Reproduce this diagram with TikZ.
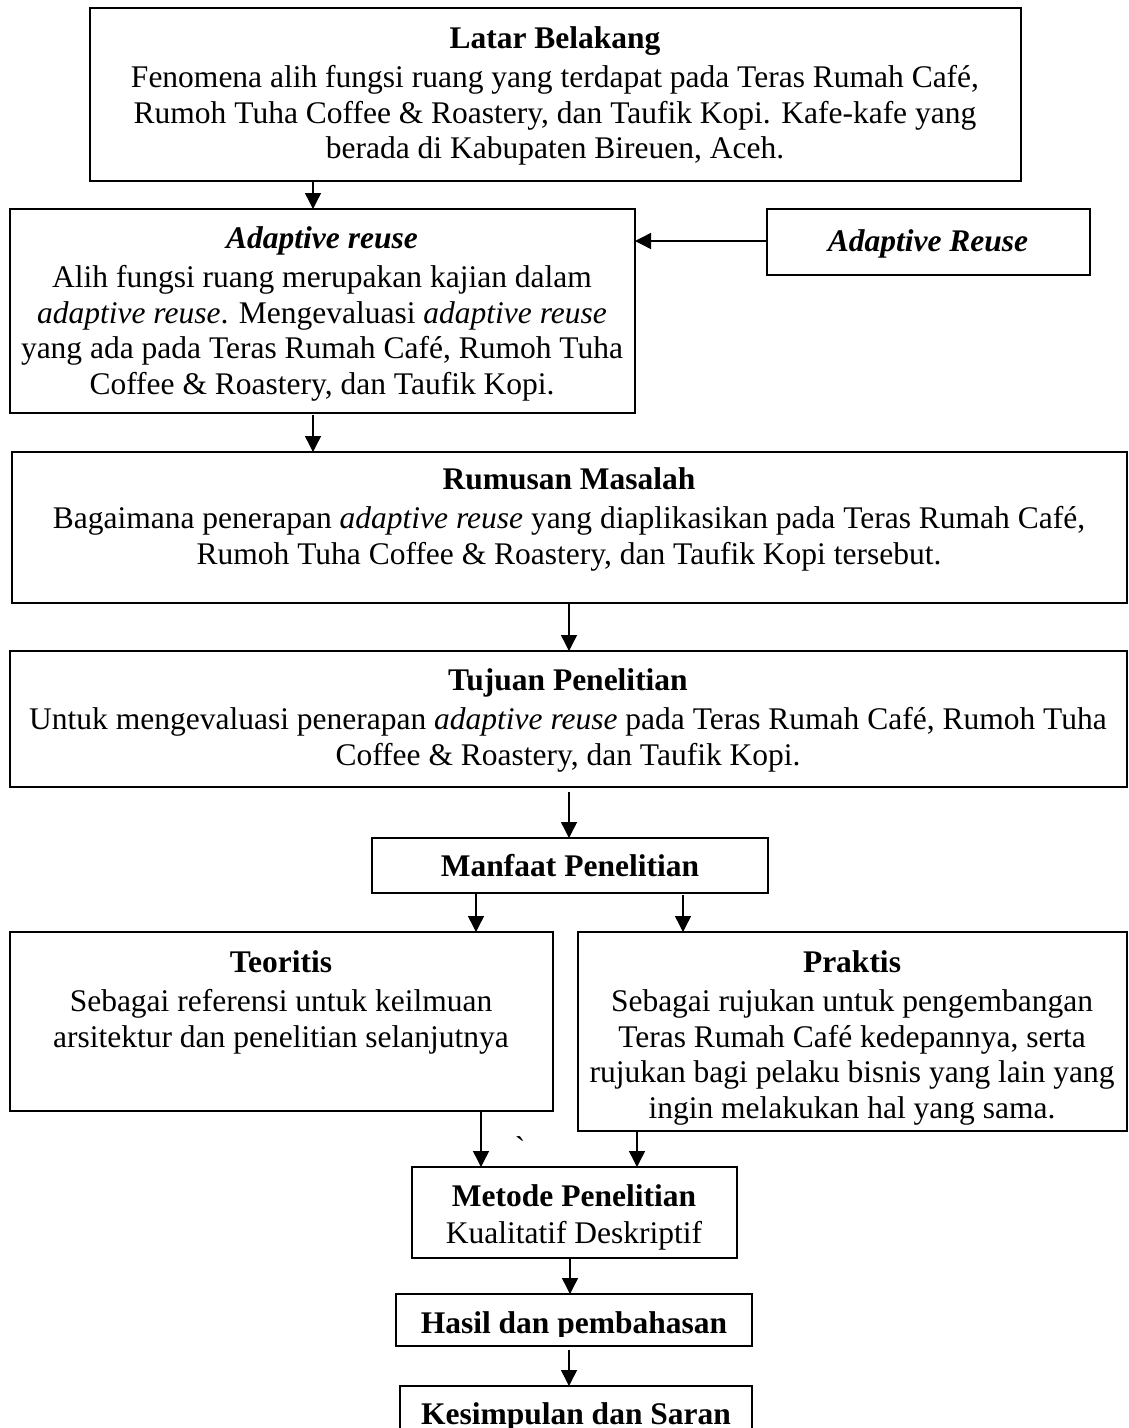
\documentclass[tikz,border=0pt]{standalone}
\usepackage{fontspec}
\setmainfont{Liberation Serif}
\usetikzlibrary{arrows.meta}
\begin{document}
\begin{tikzpicture}[x=1pt,y=-1pt,
  box/.style args={#1/#2}{draw,line width=1.6pt,anchor=north west,inner sep=0pt,outer sep=0pt,minimum width=#1pt,minimum height=#2pt},
  txt/.style={align=center,inner sep=0pt,anchor=north,font=\fontsize{31.5}{35.5}\selectfont},
  arr/.style={line width=1.4pt,-{Triangle[length=16pt,width=16pt]}}]
\useasboundingbox (0,0) rectangle (1129,1428);
% boxes
\node[box=931/173] (latar) at (90,8) {};
\node[box=625/204] (ar) at (10,209) {};
\node[box=323/66] (arx) at (767,209) {};
\node[box=1115/151] (rum) at (12,452) {};
\node[box=1117/136] (tuj) at (10,651) {};
\node[box=396/55] (man) at (372,838) {};
\node[box=543/179] (teo) at (10,932) {};
\node[box=549/199] (pra) at (578,932) {};
\node[box=325/91] (met) at (412,1167) {};
\node[box=356/52] (has) at (396,1294) {};
\node[box=352/90] (kes) at (400,1386) {};
% texts
\node[txt] (tlatar) at (555,26.5) {\textbf{Latar Belakang}\\[3.5pt]
Fenomena alih fungsi ruang yang terdapat pada Teras Rumah Café,\\
Rumoh Tuha Coffee \& Roastery, dan Taufik Kopi. Kafe-kafe yang\\
berada di Kabupaten Bireuen, Aceh.};
\node[txt] (tar) at (322,226.5) {\textbf{\textit{Adaptive reuse}}\\[3.5pt]
Alih fungsi ruang merupakan kajian dalam\\
\textit{adaptive reuse}. Mengevaluasi \textit{adaptive reuse}\\
yang ada pada Teras Rumah Café, Rumoh Tuha\\
Coffee \& Roastery, dan Taufik Kopi.};
\node[txt] (tarx) at (928,229.5) {\textbf{\textit{Adaptive Reuse}}};
\node[txt] (trum) at (569,467.5) {\textbf{Rumusan Masalah}\\[3.5pt]
Bagaimana penerapan \textit{adaptive reuse} yang diaplikasikan pada Teras Rumah Café,\\
Rumoh Tuha Coffee \& Roastery, dan Taufik Kopi tersebut.};
\node[txt] (ttuj) at (568,668.5) {\textbf{Tujuan Penelitian}\\[3.5pt]
Untuk mengevaluasi penerapan \textit{adaptive reuse} pada Teras Rumah Café, Rumoh Tuha\\
Coffee \& Roastery, dan Taufik Kopi.};
\node[txt] (tman) at (570,854.5) {\textbf{Manfaat Penelitian}};
\node[txt] (tteo) at (281,950.5) {\textbf{Teoritis}\\[3.5pt]
Sebagai referensi untuk keilmuan\\
arsitektur dan penelitian selanjutnya};
\node[txt] (tpra) at (852,950.5) {\textbf{Praktis}\\[3.5pt]
Sebagai rujukan untuk pengembangan\\
Teras Rumah Café kedepannya, serta\\
rujukan bagi pelaku bisnis yang lain yang\\
ingin melakukan hal yang sama.};
\node[txt] (tmet) at (574,1184.5) {\textbf{Metode Penelitian}\\[1.5pt]
Kualitatif Deskriptif};
\begin{scope}
\clip (396,1294) rectangle (752,1336);
\node[txt] (thas) at (574,1311.5) {\textbf{Hasil dan pembahasan}};
\end{scope}
\node[txt] (tkes) at (576,1402.5) {\textbf{Kesimpulan dan Saran}};
\node[txt,anchor=base] (tick) at (520,1158) {\textasciigrave};
% arrow columns
\coordinate (c1) at (313,0);
\coordinate (c2) at (569,0);
\coordinate (c3) at (476,0);
\coordinate (c4) at (683,0);
\coordinate (c5) at (481,0);
\coordinate (c6) at (637,0);
\coordinate (c7) at (570,0);
\coordinate (r1) at (0,241);
% connectors
\draw[arr] (latar.south -| c1) -- (ar.north -| c1);
\draw[arr] (arx.west |- r1) -- (ar.east |- r1);
\draw[arr,shorten <=2pt] (ar.south -| c1) -- (rum.north -| c1);
\draw[arr] (rum.south -| c2) -- (tuj.north -| c2);
\draw[arr,shorten <=5pt] (tuj.south -| c2) -- (man.north -| c2);
\draw[arr] (man.south -| c3) -- (teo.north -| c3);
\draw[arr,shorten <=2pt] (man.south -| c4) -- (pra.north -| c4);
\draw[arr] (teo.south -| c5) -- (met.north -| c5);
\draw[arr] (pra.south -| c6) -- (met.north -| c6);
\draw[arr] (met.south -| c7) -- (has.north -| c7);
\draw[arr,shorten <=4pt] (has.south -| c2) -- (kes.north -| c2);
\end{tikzpicture}
\end{document}
